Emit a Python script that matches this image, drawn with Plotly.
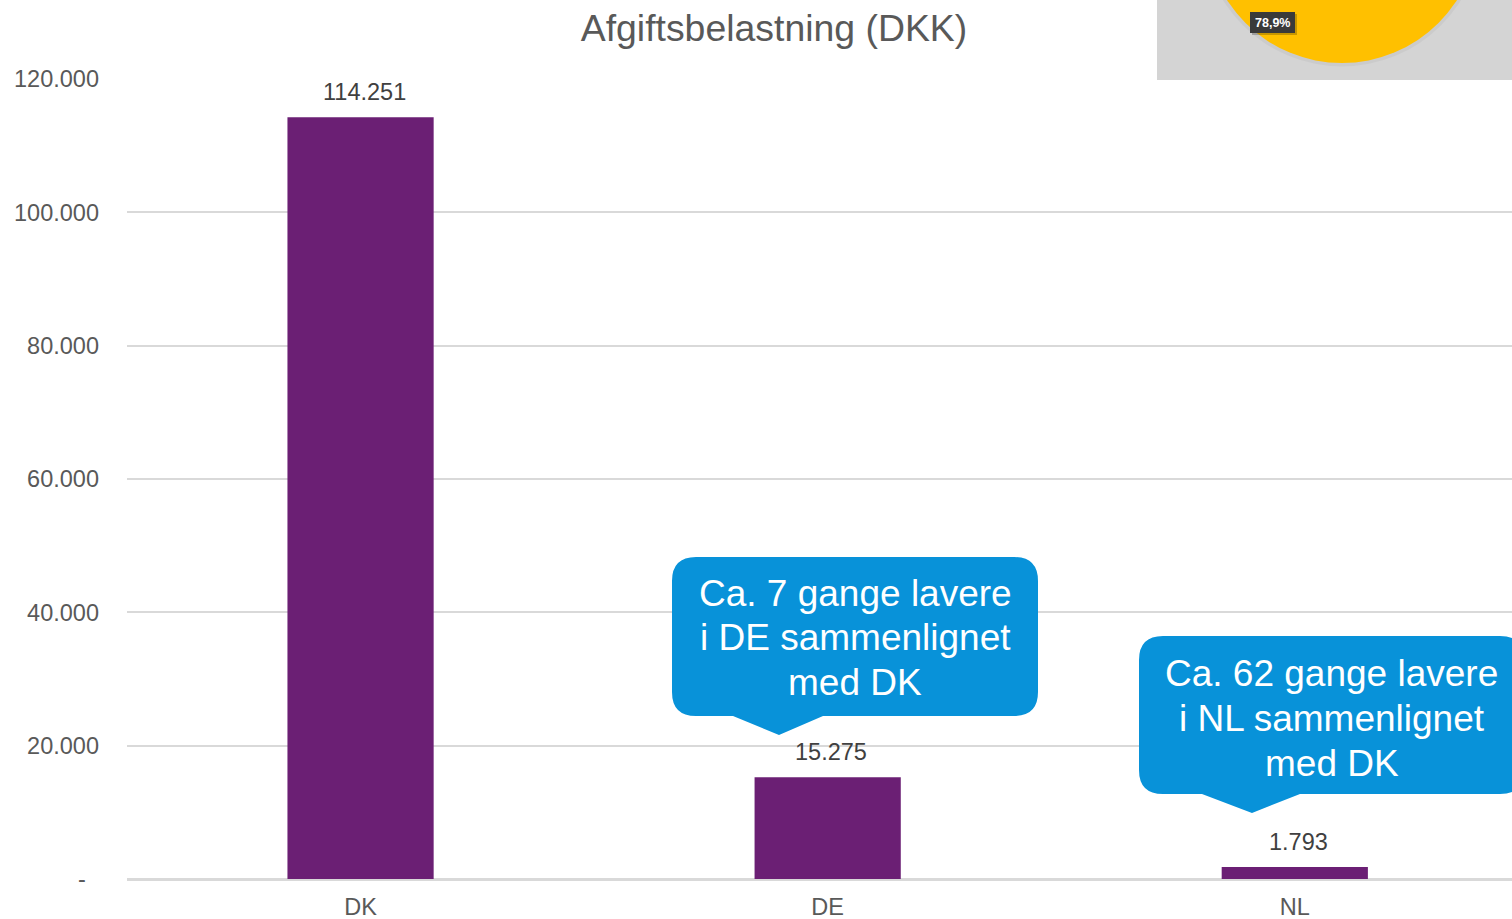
import plotly.graph_objects as go

# ---- data ----
categories = ["DK", "DE", "NL"]
values = [114251, 15275, 1793]
y_tickvals = [0, 20000, 40000, 60000, 80000, 100000, 120000]
y_ticktext = ["-\u00a0\u00a0", "20.000", "40.000", "60.000", "80.000", "100.000", "120.000"]
title_text = "Afgiftsbelastning (DKK)"
callout1_lines = ["Ca. 7 gange lavere", "i DE sammenlignet", "med DK"]
callout2_lines = ["Ca. 62 gange lavere", "i NL sammenlignet", "med DK"]
inset_label = "78,9%"

W, H = 1512, 919
L_M, R_M, T_M, B_M = 127, 0, 79, 40
PW = W - L_M - R_M
PH = H - T_M - B_M

FONT = "Liberation Sans, Arial, sans-serif"
BAR_COLOR = "#6B1F74"
BLUE = "#0892D9"


def px(x):
    return (x - L_M) / PW


def py(y):
    return (H - B_M - y) / PH


def fmt(v):
    return f"{v:,}".replace(",", ".")


def callout_path(l, t, r, b, rad, a, ax, ay, bb):
    pts = [
        ("M", [(l + rad, t)]),
        ("L", [(r - rad, t)]),
        ("Q", [(r, t), (r, t + rad)]),
        ("L", [(r, b - rad)]),
        ("Q", [(r, b), (r - rad, b)]),
        ("L", [(bb, b)]),
        ("L", [(ax, ay)]),
        ("L", [(a, b)]),
        ("L", [(l + rad, b)]),
        ("Q", [(l, b), (l, b - rad)]),
        ("L", [(l, t + rad)]),
        ("Q", [(l, t), (l + rad, t)]),
    ]
    s = ""
    for cmd, ps in pts:
        s += cmd + " " + " ".join(f"{px(x):.5f},{py(y):.5f}" for x, y in ps) + " "
    return s + "Z"


fig = go.Figure()
fig.add_trace(go.Bar(
    x=categories, y=values, width=0.313,
    marker=dict(color=BAR_COLOR, line=dict(width=0)),
    hoverinfo="skip",
))

annotations = []
# data labels
for c, v in zip(categories, values):
    annotations.append(dict(
        x=c, y=v, xref="x", yref="y", text=fmt(v), showarrow=False,
        yanchor="middle", yshift=25, xshift=3.5,
        font=dict(family=FONT, size=23.5, color="#404040"),
    ))

shapes = []
# callout 1
shapes.append(dict(type="path", xref="paper", yref="paper",
                   path=callout_path(672, 557, 1038, 716, 24, 733, 779, 735, 823),
                   fillcolor=BLUE, line=dict(width=0), layer="above"))
# callout 2
shapes.append(dict(type="path", xref="paper", yref="paper",
                   path=callout_path(1139, 636, 1524, 794, 24, 1202, 1252, 813, 1300),
                   fillcolor=BLUE, line=dict(width=0), layer="above"))

for i, line in enumerate(callout1_lines):
    annotations.append(dict(
        x=px(855), y=py(593 + i * 44.5), xref="paper", yref="paper",
        text=line, showarrow=False, xanchor="center", yanchor="middle",
        font=dict(family=FONT, size=37, color="white"),
    ))
for i, line in enumerate(callout2_lines):
    annotations.append(dict(
        x=px(1331.5), y=py(673 + i * 45), xref="paper", yref="paper",
        text=line, showarrow=False, xanchor="center", yanchor="middle",
        font=dict(family=FONT, size=37, color="white"),
    ))

# inset (cropped pie picture in top-right corner)
shapes.append(dict(type="rect", xref="paper", yref="paper",
                   x0=px(1157), x1=px(1512), y0=py(80), y1=py(0),
                   fillcolor="#D4D4D4", line=dict(width=0), layer="above"))
shapes.append(dict(type="circle", xref="paper", yref="paper",
                   x0=px(1342 - 140), x1=px(1342 + 140), y0=py(-73.5 + 140), y1=py(-73.5 - 140),
                   fillcolor="rgba(0,0,0,0.04)", line=dict(width=0), layer="above"))
shapes.append(dict(type="circle", xref="paper", yref="paper",
                   x0=px(1342 - 136.5), x1=px(1342 + 136.5), y0=py(-73.5 + 136.5), y1=py(-73.5 - 136.5),
                   fillcolor="#FFC000", line=dict(width=0), layer="above"))
shapes.append(dict(type="rect", xref="paper", yref="paper",
                   x0=px(1252), x1=px(1297), y0=py(35), y1=py(14),
                   fillcolor="rgba(0,0,0,0.22)", line=dict(width=0), layer="above"))
shapes.append(dict(type="rect", xref="paper", yref="paper",
                   x0=px(1250), x1=px(1295), y0=py(33), y1=py(12),
                   fillcolor="#3A3A3A", line=dict(width=0), layer="above"))
annotations.append(dict(
    x=px(1272.5), y=py(22.5), xref="paper", yref="paper", text="<b>" + inset_label + "</b>",
    showarrow=False, xanchor="center", yanchor="middle",
    font=dict(family=FONT, size=12.5, color="white"),
))

fig.update_layout(
    width=W, height=H,
    margin=dict(l=L_M, r=R_M, t=T_M, b=B_M, pad=0),
    paper_bgcolor="white", plot_bgcolor="white",
    showlegend=False,
    title=dict(text=title_text, x=774 / W, xref="container", xanchor="center",
               y=1 - 28 / H, yref="container", yanchor="middle",
               font=dict(family=FONT, size=37.4, color="#595959")),
    xaxis=dict(range=[-0.5, 2.465], showgrid=False, zeroline=False, showline=False,
               ticks="", tickfont=dict(family=FONT, size=23.5, color="#595959"),
               ticklabelstandoff=11, fixedrange=True),
    yaxis=dict(range=[0, 120000], tickvals=y_tickvals, ticktext=y_ticktext,
               showgrid=True, gridcolor="#D9D9D9", gridwidth=1.5,
               zeroline=True, zerolinecolor="#D9D9D9", zerolinewidth=2.5,
               ticks="", tickfont=dict(family=FONT, size=23.5, color="#595959"),
               ticklabelstandoff=27, fixedrange=True),
    shapes=shapes, annotations=annotations,
    bargap=0.687,
)

fig.write_html("out.html", config={"displayModeBar": False},
               post_script="document.body.style.margin='0';document.body.style.overflow='hidden';")
